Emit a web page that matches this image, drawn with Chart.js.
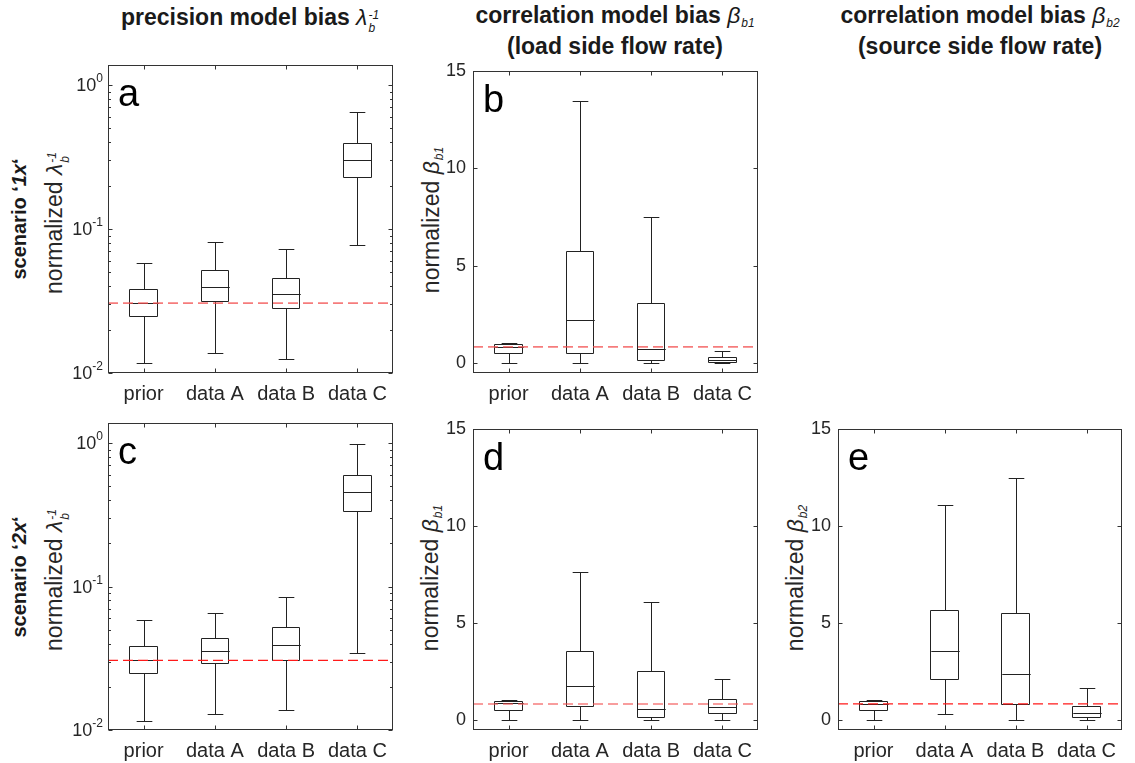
<!DOCTYPE html>
<html>
<head>
<meta charset="utf-8">
<script src="https://cdn.jsdelivr.net/npm/chart.js@4.4.0/dist/chart.umd.min.js"></script>
<style>
  html, body { margin: 0; padding: 0; background: #fff; }
  body { width: 1135px; height: 763px; position: relative; overflow: hidden;
         font-family: "Liberation Sans", Arial, Helvetica, sans-serif; color: #1a1a1a; }
  canvas { position: absolute; }
  .title { position: absolute; transform: translate(-50%, -50%); font-weight: bold; font-size: 23px;
           line-height: 23px; text-align: center; white-space: nowrap; color: #1a1a1a; }
  .ylab { position: absolute; transform: translate(-50%, -50%) rotate(-90deg); font-size: 23px;
          white-space: nowrap; color: #262626; }
  .scen { position: absolute; transform: translate(-50%, -50%) rotate(-90deg); font-size: 20px;
          font-weight: bold; white-space: nowrap; color: #1a1a1a; }
  .g { font-style: italic; font-weight: normal; }
  .ss { display: inline-block; font-size: 0.52em; line-height: 1.1; font-style: italic; font-weight: normal;
        vertical-align: -0.6em; text-align: left; margin-left: 1px; }
  .ss span { display: block; }
  .sb { font-size: 0.52em; font-style: italic; font-weight: normal; vertical-align: -0.35em; margin-left: 1px; }
</style>
</head>
<body>

<div class="title" style="left:250px; top:21px">precision model bias <span class="g">λ</span><span class="ss"><span>-1</span><span>b</span></span></div>
<div class="title" style="left:615px; top:31px">correlation model bias <span class="g">β</span><span class="sb">b1</span><br>(load side flow rate)</div>
<div class="title" style="left:980px; top:31px">correlation model bias <span class="g">β</span><span class="sb">b2</span><br>(source side flow rate)</div>

<div class="scen" style="left:19px; top:219px">scenario ‘<i>1x</i>‘</div>
<div class="scen" style="left:19px; top:577px">scenario ‘<i>2x</i>‘</div>

<div class="ylab" style="left:57px; top:223px">normalized <span class="g">λ</span><span class="ss"><span>-1</span><span>b</span></span></div>
<div class="ylab" style="left:432px; top:220px">normalized <span class="g">β</span><span class="sb">b1</span></div>
<div class="ylab" style="left:57px; top:580px">normalized <span class="g">λ</span><span class="ss"><span>-1</span><span>b</span></span></div>
<div class="ylab" style="left:431px; top:578px">normalized <span class="g">β</span><span class="sb">b1</span></div>
<div class="ylab" style="left:796px; top:578px">normalized <span class="g">β</span><span class="sb">b2</span></div>

<script>
const categories = ['prior', 'data A', 'data B', 'data C'];
const logTicks = [0.01, 0.1, 1];
const linTicks = [0, 5, 10, 15];

// panel a: precision bias, scenario 1x (log)
const aMin = [0.0117, 0.0138, 0.0125, 0.077];
const aQ1  = [0.0250, 0.0316, 0.0281, 0.230];
const aMed = [0.0306, 0.0397, 0.0354, 0.303];
const aQ3  = [0.0383, 0.0516, 0.0457, 0.399];
const aMax = [0.0583, 0.0812, 0.0722, 0.649];
const aRef = 0.0306;

// panel b: beta_b1, scenario 1x
const bMin = [0, 0, 0, 0];
const bQ1  = [0.52, 0.55, 0.17, 0.07];
const bMed = [0.85, 2.23, 0.75, 0.17];
const bQ3  = [0.97, 5.75, 3.1, 0.30];
const bMax = [1.02, 13.45, 7.5, 0.63];
const bRef = 0.84;

// panel c: precision bias, scenario 2x (log)
const cMin = [0.0116, 0.0129, 0.0138, 0.0344];
const cQ1  = [0.0248, 0.0291, 0.0306, 0.337];
const cMed = [0.0306, 0.0356, 0.0389, 0.457];
const cQ3  = [0.0385, 0.0435, 0.0519, 0.600];
const cMax = [0.0587, 0.0653, 0.0843, 0.99];
const cRef = 0.0306;

// panel d: beta_b1, scenario 2x
const dMin = [0, 0, 0, 0];
const dQ1  = [0.54, 0.74, 0.17, 0.37];
const dMed = [0.87, 1.74, 0.59, 0.67];
const dQ3  = [0.99, 3.54, 2.55, 1.07];
const dMax = [1.04, 7.64, 6.1, 2.15];
const dRef = 0.84;

// panel e: beta_b2, scenario 2x
const eMin = [0, 0.34, 0, 0];
const eQ1  = [0.53, 2.15, 0.84, 0.17];
const eMed = [0.85, 3.55, 2.38, 0.40];
const eQ3  = [0.98, 5.70, 5.51, 0.75];
const eMax = [1.02, 11.09, 12.48, 1.64];
const eRef = 0.84;

const FONT = '"Liberation Sans", Arial, Helvetica, sans-serif';
const PADL = 100, PADT = 12, PADR = 12, PADB = 40;

function boxPlugin(p) {
    return {
        id: 'box_' + p.letter,
        afterDatasetsDraw(chart) {
            const ctx = chart.ctx;
            const a = chart.chartArea;
            const x = chart.scales.x, y = chart.scales.y;
            const cw = (a.right - a.left) / categories.length;
            const cap = cw * 0.11, half = cw * 0.2;
            const ry = v => Math.round(y.getPixelForValue(v)) + 0.5;
            ctx.save();
            ctx.strokeStyle = '#222';
            ctx.lineWidth = 1;
            ctx.beginPath();
            // box outlines from the bar elements
            chart.getDatasetMeta(0).data.forEach(el => {
                const b = el.getProps(['x', 'y', 'base', 'width'], true);
                const l = Math.round(b.x - b.width / 2) + 0.5;
                const r = Math.round(b.x + b.width / 2) - 0.5;
                const t = Math.round(Math.min(b.y, b.base)) + 0.5;
                const bt = Math.round(Math.max(b.y, b.base)) + 0.5;
                ctx.rect(l, t, r - l, bt - t);
            });
            for (let i = 0; i < categories.length; i++) {
                const px = Math.round(x.getPixelForValue(i)) + 0.5;
                ctx.moveTo(px, ry(p.q3[i])); ctx.lineTo(px, ry(p.max[i]));
                ctx.moveTo(px, ry(p.q1[i])); ctx.lineTo(px, ry(p.min[i]));
                ctx.moveTo(px - cap, ry(p.max[i])); ctx.lineTo(px + cap, ry(p.max[i]));
                ctx.moveTo(px - cap, ry(p.min[i])); ctx.lineTo(px + cap, ry(p.min[i]));
                ctx.moveTo(px - half, ry(p.med[i])); ctx.lineTo(px + half, ry(p.med[i]));
            }
            ctx.stroke();
            // reference line
            ctx.beginPath();
            ctx.setLineDash([10, 5]);
            ctx.strokeStyle = p.refColor;
            ctx.lineWidth = p.refWidth;
            const yr = y.getPixelForValue(p.ref);
            ctx.moveTo(a.left, yr); ctx.lineTo(a.right, yr);
            ctx.stroke();
            ctx.restore();
        },
        afterDraw(chart) {
            const ctx = chart.ctx;
            const a = chart.chartArea;
            const x = chart.scales.x, y = chart.scales.y;
            const L = Math.round(a.left) + 0.5, R = Math.round(a.right) - 0.5;
            const T = Math.round(a.top) + 0.5, B = Math.round(a.bottom) - 0.5;
            ctx.save();
            ctx.strokeStyle = '#333';
            ctx.lineWidth = 1;
            ctx.strokeRect(L, T, R - L, B - T);
            ctx.beginPath();
            // x ticks top/bottom
            for (let i = 0; i < categories.length; i++) {
                const px = Math.round(x.getPixelForValue(i)) + 0.5;
                ctx.moveTo(px, T); ctx.lineTo(px, T + 4);
                ctx.moveTo(px, B); ctx.lineTo(px, B - 4);
            }
            const major = p.log ? logTicks : linTicks;
            major.forEach(v => {
                const py = Math.round(y.getPixelForValue(v)) + 0.5;
                ctx.moveTo(L, py); ctx.lineTo(L + 4, py);
                ctx.moveTo(R, py); ctx.lineTo(R - 4, py);
            });
            if (p.log) {
                logTicks.forEach(d => {
                    for (let k = 2; k <= 9; k++) {
                        const v = k * d;
                        if (v > y.max) continue;
                        const py = Math.round(y.getPixelForValue(v)) + 0.5;
                        ctx.moveTo(L, py); ctx.lineTo(L + 2.5, py);
                        ctx.moveTo(R, py); ctx.lineTo(R - 2.5, py);
                    }
                });
            }
            ctx.stroke();
            // log tick labels 10^n
            if (p.log) {
                ctx.fillStyle = '#262626';
                ctx.textBaseline = 'alphabetic';
                logTicks.forEach(v => {
                    const py = y.getPixelForValue(v);
                    const ex = String(Math.round(Math.log10(v)));
                    ctx.font = '12px ' + FONT;
                    const we = ctx.measureText(ex).width;
                    ctx.font = '18px ' + FONT;
                    const wb = ctx.measureText('10').width;
                    const xr = a.left - 5;
                    ctx.fillText('10', xr - we - wb, py + 6);
                    ctx.font = '12px ' + FONT;
                    ctx.fillText(ex, xr - we, py - 3);
                });
            }
            // panel letter
            ctx.fillStyle = '#000';
            ctx.font = '38px ' + FONT;
            ctx.fillText(p.letter, a.left + 10, a.top + 41);
            ctx.restore();
        }
    };
}

function makePanel(p) {
    const cv = document.createElement('canvas');
    cv.width = PADL + p.w + PADR;
    cv.height = PADT + p.h + PADB;
    cv.style.left = (p.left - PADL) + 'px';
    cv.style.top = (p.top - PADT) + 'px';
    document.body.appendChild(cv);

    const yScale = p.log ? {
        type: 'logarithmic', min: 0.01, max: 1.38,
        grid: { display: false, drawTicks: false }, border: { display: false },
        ticks: { display: false },
        afterBuildTicks: s => { s.ticks = logTicks.map(v => ({ value: v })); },
        afterFit: s => { s.width = PADL; }
    } : {
        type: 'linear', min: -0.5, max: 15,
        grid: { display: false, drawTicks: false }, border: { display: false },
        ticks: { font: { family: FONT, size: 18 }, color: '#262626', padding: 7 },
        afterBuildTicks: s => { s.ticks = linTicks.map(v => ({ value: v })); },
        afterFit: s => { s.width = PADL; }
    };

    new Chart(cv.getContext('2d'), {
        type: 'bar',
        data: {
            labels: categories,
            datasets: [{
                data: p.q1.map((v, i) => [v, p.q3[i]]),
                backgroundColor: '#ffffff',
                borderWidth: 0,
                barPercentage: 0.4,
                categoryPercentage: 1
            }]
        },
        options: {
            responsive: false,
            animation: false,
            devicePixelRatio: 1,
            events: [],
            layout: { padding: { top: PADT, right: PADR, left: 0, bottom: 0 } },
            plugins: { legend: { display: false }, tooltip: { enabled: false } },
            scales: {
                x: {
                    grid: { display: false, drawTicks: false }, border: { display: false },
                    ticks: { font: { family: FONT, size: 20 }, color: '#262626', padding: 9, maxRotation: 0 },
                    afterFit: s => { s.height = PADB; }
                },
                y: yScale
            }
        },
        plugins: [boxPlugin(p)]
    });
}

const pinkRef = 'rgba(242, 80, 80, 0.75)';
const redRef = '#ff1a1a';

makePanel({ letter: 'a', left: 108, top: 65, w: 285, h: 308, log: true,
    min: aMin, q1: aQ1, med: aMed, q3: aQ3, max: aMax, ref: aRef, refColor: pinkRef, refWidth: 1.6 });
makePanel({ letter: 'b', left: 473, top: 65, w: 285, h: 308, log: false,
    min: bMin, q1: bQ1, med: bMed, q3: bQ3, max: bMax, ref: bRef, refColor: pinkRef, refWidth: 1.6 });
makePanel({ letter: 'c', left: 108, top: 423, w: 285, h: 307, log: true,
    min: cMin, q1: cQ1, med: cMed, q3: cQ3, max: cMax, ref: cRef, refColor: redRef, refWidth: 1.2 });
makePanel({ letter: 'd', left: 473, top: 423, w: 285, h: 307, log: false,
    min: dMin, q1: dQ1, med: dMed, q3: dQ3, max: dMax, ref: dRef, refColor: pinkRef, refWidth: 1.6 });
makePanel({ letter: 'e', left: 838, top: 423, w: 284, h: 307, log: false,
    min: eMin, q1: eQ1, med: eMed, q3: eQ3, max: eMax, ref: eRef, refColor: redRef, refWidth: 1.2 });
</script>
</body>
</html>
